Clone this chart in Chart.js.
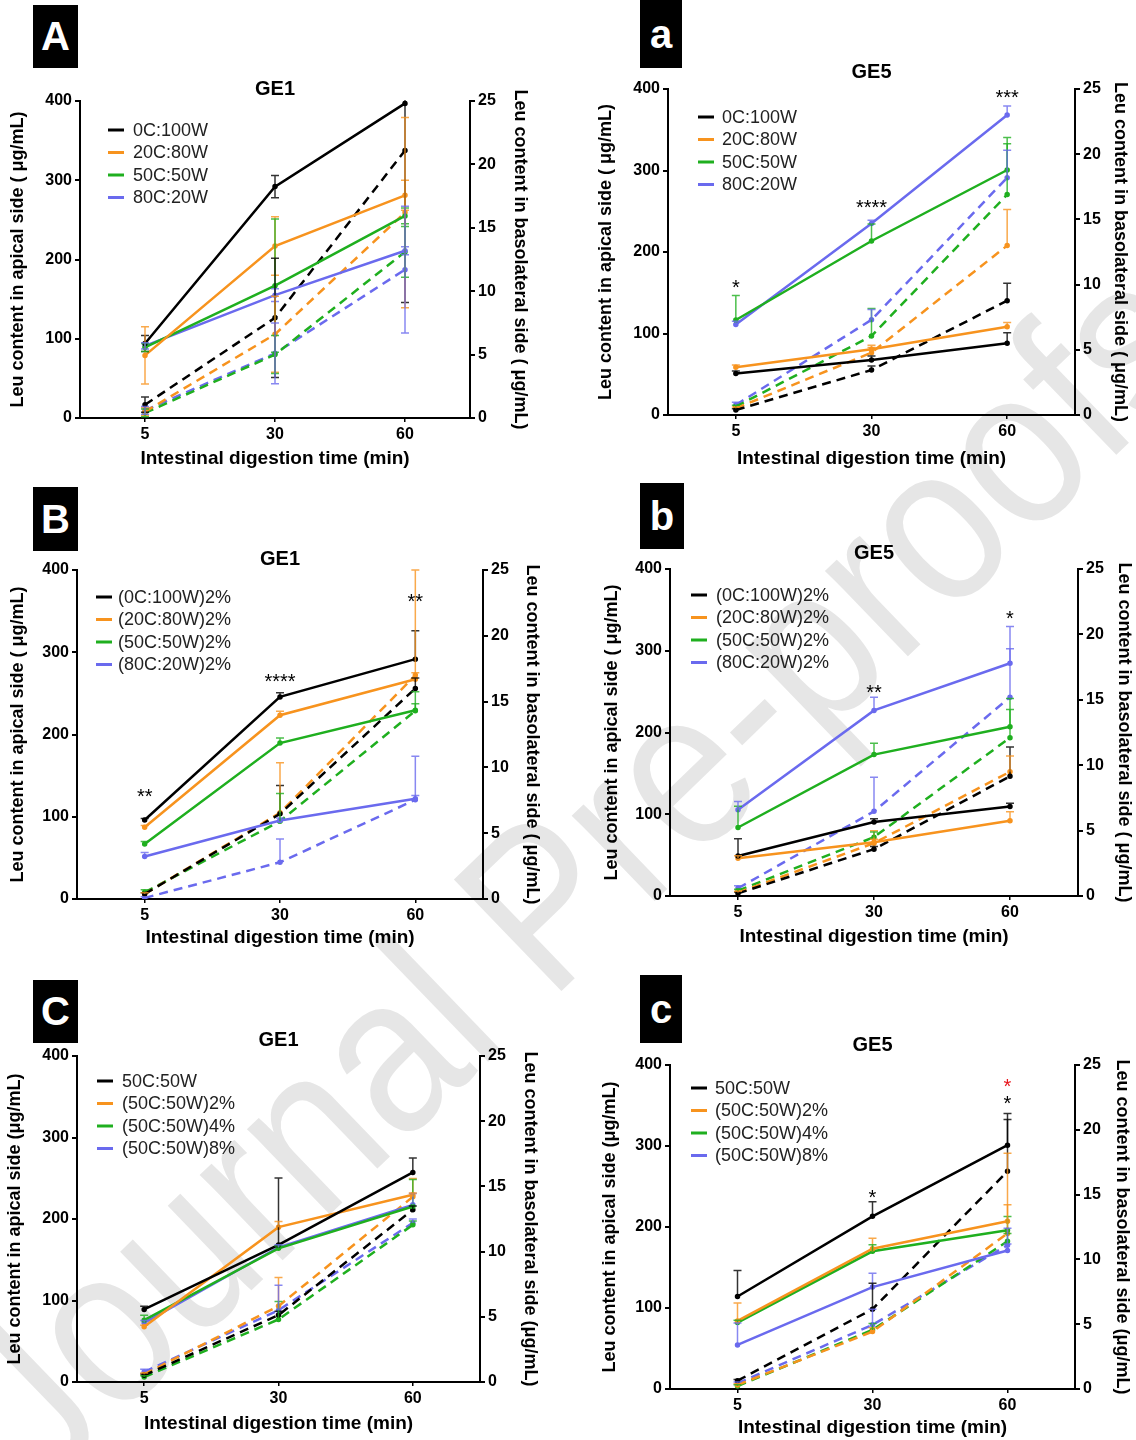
<!DOCTYPE html>
<html>
<head>
<meta charset="utf-8">
<script src="https://cdn.jsdelivr.net/npm/chart.js@4.4.0/dist/chart.umd.min.js"></script>
<style>
body { margin: 0; background: #fff; width: 1136px; height: 1440px; position: relative; overflow: hidden; font-family: "Liberation Sans", Arial, sans-serif; }
canvas { position: absolute; z-index: 1; }
.tag { position: absolute; background: #000; color: #fff; font-weight: bold; font-size: 40px; text-align: center; z-index: 2; }
.wm { position: absolute; left: 575px; top: 870px; transform: translate(-50%, -50%) rotate(-44deg) scaleX(0.88); font-size: 225px; color: #e6e6e6; white-space: nowrap; z-index: 0; }
</style>
</head>
<body>
<div class="wm">Journal Pre-proofs</div>
<div class="tag" style="left:33px;top:5px;width:45px;height:63px;line-height:63px">A</div>
<div class="tag" style="left:640px;top:0px;width:42px;height:68px;line-height:68px">a</div>
<div class="tag" style="left:33px;top:487px;width:45px;height:64px;line-height:64px">B</div>
<div class="tag" style="left:640px;top:483px;width:44px;height:66px;line-height:66px">b</div>
<div class="tag" style="left:33px;top:980px;width:45px;height:63px;line-height:63px">C</div>
<div class="tag" style="left:640px;top:975px;width:42px;height:68px;line-height:68px">c</div>
<canvas id="pA" width="568" height="480" style="left:0;top:0"></canvas>
<canvas id="pa" width="568" height="480" style="left:568px;top:0"></canvas>
<canvas id="pB" width="568" height="480" style="left:0;top:480px"></canvas>
<canvas id="pb" width="568" height="480" style="left:568px;top:480px"></canvas>
<canvas id="pC" width="568" height="480" style="left:0;top:960px"></canvas>
<canvas id="pc" width="568" height="480" style="left:568px;top:960px"></canvas>
<script>
// digestion times (x axis)
var times = ['5', '30', '60'];
var lineColours = ['#000000', '#f7931e', '#1faf1f', '#6a6aee'];

// ---- panel A (GE1) ----
var namesA = ['0C:100W', '20C:80W', '50C:50W', '80C:20W'];
var apicalA = [[94, 292, 397], [79, 217, 281], [89, 167, 255], [91, 155, 211]];
var apicalErrA = [[10, 14, 0], [36, 37, 19], [5, 84, 10], [4, 8, 5]];
var basoA = [[1.05, 7.9, 21.1], [0.5, 6.6, 16.2], [0.4, 5.0, 13.1], [0.6, 5.1, 11.7]];
var basoErrA = [[0.6, 4.7, 12], [0.3, 3, 7.5], [0.3, 1.5, 2], [0.3, 2.4, 5]];

// ---- panel a (GE5) ----
var namesa = ['0C:100W', '20C:80W', '50C:50W', '80C:20W'];
var apicala = [[51, 67.5, 88], [58.5, 80.6, 108.4], [116.6, 213.5, 300.6], [111, 235, 368]];
var apicalErra = [[3, 5, 13], [3, 5, 5], [30, 21, 40], [4, 4, 11]];
var basoa = [[0.38, 3.45, 8.77], [0.51, 4.78, 12.99], [0.64, 6.06, 16.9], [0.77, 7.3, 18.2]];
var basoErra = [[0.1, 0.3, 1.33], [0.1, 0.4, 2.76], [0.1, 2.1, 3.9], [0.2, 0.8, 2.1]];
var starTexta = ['*', '****', '***'];
var starYa = [162, 260, 395];

// ---- panel B (GE1, 2%) ----
var namesB = ['(0C:100W)2%', '(20C:80W)2%', '(50C:50W)2%', '(80C:20W)2%'];
var apicalB = [[96, 245.7, 291.6], [87.3, 223.4, 267.2], [67, 189.6, 229.4], [51.6, 95.4, 121.8]];
var apicalErrB = [[2, 5, 34.5], [2, 5, 8], [3, 6, 8], [5, 3, 4]];
var basoB = [[0.38, 6.47, 16.0], [0.38, 6.55, 17.0], [0.51, 5.91, 14.3], [0.08, 2.79, 7.54]];
var basoErrB = [[0.1, 2.15, 0.8], [0.1, 3.8, 8], [0.2, 2.1, 1.45], [0.1, 1.77, 3.3]];
var starTextB = ['**', '****', '**'];
var starYB = [130, 270, 367];

// ---- panel b (GE5, 2%) ----
var namesb = ['(0C:100W)2%', '(20C:80W)2%', '(50C:50W)2%', '(80C:20W)2%'];
var apicalb = [[49, 90.4, 109.6], [46.2, 65.8, 92], [83.8, 173, 207], [105.5, 227, 284.7]];
var apicalErrb = [[21, 4, 4], [3, 14, 11], [26, 14, 21], [10, 16, 45]];
var basob = [[0.2, 3.58, 9.15], [0.26, 4.04, 9.5], [0.41, 4.5, 12.1], [0.59, 6.47, 15.2]];
var basoErrb = [[0.1, 0.2, 2.25], [0.1, 0.3, 1.2], [0.1, 0.4, 3], [0.2, 2.6, 3.7]];
var starTextb = ['', '**', '*'];
var starYb = [0, 254, 345];

// ---- panel C (GE1, 50C:50W) ----
var namesC = ['50C:50W', '(50C:50W)2%', '(50C:50W)4%', '(50C:50W)8%'];
var apicalC = [[89, 168.2, 257.2], [67.7, 190, 229.7], [75.9, 164, 215.4], [72.6, 165.3, 217.4]];
var apicalErrC = [[4, 82, 17.6], [2, 7, 20], [6, 3, 33], [3, 3, 14]];
var basoC = [[0.51, 5.13, 13.2], [0.59, 5.82, 14.2], [0.38, 4.8, 12.05], [0.77, 5.51, 12.2]];
var basoErrC = [[0.1, 0.3, 0.3], [0.1, 2.2, 0.3], [0.1, 1.37, 0.3], [0.2, 1.9, 0.3]];

// ---- panel c (GE5, 50C:50W) ----
var namesc = ['50C:50W', '(50C:50W)2%', '(50C:50W)4%', '(50C:50W)8%'];
var apicalc = [[114.2, 213.2, 301], [84.1, 173.2, 207], [82, 170, 196], [54.4, 125.8, 171]];
var apicalErrc = [[32, 18, 39], [22, 13, 20.6], [3, 8, 17], [27, 17, 8]];
var basoc = [[0.64, 6.16, 16.8], [0.31, 4.43, 12.0], [0.23, 4.56, 11.4], [0.44, 4.95, 11.1]];
var basoErrc = [[0.1, 2.0, 4], [0.1, 0.3, 6.2], [0.1, 0.5, 0.6], [0.1, 1.2, 1.3]];
var starTextc = ['', '*', '*'];
var starYc = [0, 242, 358];

var FONT = '"Liberation Sans", Arial, sans-serif';

var decor = {
    id: 'decor',
    afterDatasetsDraw: function (chart) {
        var o = chart.options.plugins.decor;
        var ctx = chart.ctx, area = chart.chartArea;
        ctx.save();
        ctx.beginPath();
        ctx.rect(area.left, area.top - 1, area.right - area.left, area.bottom - area.top + 2);
        ctx.clip();
        chart.data.datasets.forEach(function (ds, i) {
            var meta = chart.getDatasetMeta(i);
            var scale = chart.scales[ds.yAxisID];
            ctx.strokeStyle = ds.borderColor;
            ctx.globalAlpha = 0.8;
            ctx.lineWidth = 1.5;
            ds.data.forEach(function (v, j) {
                var e = ds.errors[j];
                if (!e) return;
                var x = meta.data[j].x;
                var top = scale.getPixelForValue(v + e);
                var bot = o.both ? scale.getPixelForValue(Math.max(v - e, 0)) : meta.data[j].y;
                ctx.beginPath();
                ctx.moveTo(x, top); ctx.lineTo(x, bot);
                ctx.moveTo(x - 4, top); ctx.lineTo(x + 4, top);
                if (o.both) { ctx.moveTo(x - 4, bot); ctx.lineTo(x + 4, bot); }
                ctx.stroke();
            });
        });
        ctx.restore();
    },
    afterDraw: function (chart) {
        var o = chart.options.plugins.decor;
        var ctx = chart.ctx, area = chart.chartArea;
        ctx.save();
        // panel title
        ctx.fillStyle = '#000';
        ctx.font = 'bold 20px ' + FONT;
        ctx.textAlign = 'center';
        ctx.textBaseline = 'middle';
        ctx.fillText(o.title, (area.left + area.right) / 2, area.top + o.titleDy);
        // legend
        ctx.font = '18px ' + FONT;
        ctx.textAlign = 'left';
        o.names.forEach(function (n, i) {
            var y = area.top + o.legendDy + i * 22.5;
            var x = area.left + o.legendDx;
            ctx.strokeStyle = lineColours[i];
            ctx.lineWidth = 3;
            ctx.beginPath(); ctx.moveTo(x, y); ctx.lineTo(x + 16, y); ctx.stroke();
            ctx.fillStyle = '#222';
            ctx.fillText(n, x + o.legendGap, y + 1);
        });
        // significance marks
        if (o.stars) {
            var xs = chart.scales.x, ys = chart.scales.y;
            ctx.font = '20px ' + FONT;
            ctx.textAlign = 'center';
            ctx.textBaseline = 'alphabetic';
            o.stars.forEach(function (s) {
                if (!s.text) return;
                ctx.fillStyle = s.colour || '#000';
                ctx.fillText(s.text, xs.getPixelForValue(s.t), ys.getPixelForValue(s.v) + 11);
            });
        }
        ctx.restore();
    }
};

function buildStars(texts, values, extra) {
    var out = [];
    texts.forEach(function (t, i) { out.push({ t: i, text: t, v: values[i] }); });
    if (extra) out = out.concat(extra);
    return out;
}

function makePanel(id, p) {
    var datasets = [];
    for (var i = 0; i < 4; i++) {
        datasets.push({
            label: p.names[i] + ' apical',
            data: p.apical[i],
            errors: p.apicalErr[i],
            yAxisID: 'y',
            borderColor: lineColours[i],
            backgroundColor: lineColours[i],
            borderWidth: 2.5,
            pointRadius: 1.5,
            tension: 0
        });
    }
    for (var k = 0; k < 4; k++) {
        datasets.push({
            label: p.names[k] + ' basolateral',
            data: p.baso[k],
            errors: p.basoErr[k],
            yAxisID: 'y2',
            borderColor: lineColours[k],
            backgroundColor: lineColours[k],
            borderWidth: 2.5,
            borderDash: [9, 6],
            pointRadius: 1.5,
            tension: 0
        });
    }
    var tickFont = { family: FONT, size: 16, weight: 'bold' };
    var titleFont = { family: FONT, size: 18, weight: 'bold' };
    new Chart(document.getElementById(id), {
        type: 'line',
        data: { labels: times, datasets: datasets },
        options: {
            responsive: false,
            animation: false,
            devicePixelRatio: 1,
            layout: { padding: p.pad },
            plugins: {
                legend: { display: false },
                tooltip: { enabled: false },
                decor: {
                    title: p.title, titleDy: p.titleDy, names: p.names,
                    legendDx: p.legendDx, legendDy: p.legendDy, legendGap: p.legendGap,
                    stars: p.stars, both: p.both
                }
            },
            scales: {
                x: {
                    type: 'category',
                    offset: true,
                    afterFit: function (s) { s.height = p.xH; },
                    grid: { display: true, drawOnChartArea: false, offset: false, tickLength: 4, color: '#000', lineWidth: 1.5 },
                    border: { display: true, color: '#000', width: 2 },
                    ticks: { color: '#000', font: tickFont, padding: 3, maxRotation: 0 },
                    title: { display: true, text: 'Intestinal digestion time (min)', color: '#000', font: { family: FONT, size: 19, weight: 'bold' }, padding: 0 }
                },
                y: {
                    position: 'left',
                    min: 0, max: 400,
                    afterFit: function (s) { s.width = p.lW; },
                    grid: { display: true, drawOnChartArea: false, tickLength: 5, color: '#000', lineWidth: 2 },
                    border: { display: true, color: '#000', width: 2 },
                    ticks: { stepSize: 100, color: '#000', font: tickFont, padding: 3 },
                    title: { display: true, text: p.leftTitle, color: '#000', font: titleFont, padding: 0 }
                },
                y2: {
                    position: 'right',
                    min: 0, max: 25,
                    afterFit: function (s) { s.width = p.rW; },
                    grid: { display: true, drawOnChartArea: false, tickLength: 5, color: '#000', lineWidth: 2 },
                    border: { display: true, color: '#000', width: 2 },
                    ticks: { stepSize: 5, color: '#000', font: tickFont, padding: 3 },
                    title: { display: true, text: p.rightTitle, color: '#000', font: titleFont, padding: 0 }
                }
            }
        },
        plugins: [decor]
    });
}

var leftT1 = 'Leu content in apical side ( \u03bcg/mL)';
var rightT1 = 'Leu content in basolateral side ( \u03bcg/mL)';
var leftT2 = 'Leu content in apical side (\u03bcg/mL)';
var rightT2 = 'Leu content in basolateral side (\u03bcg/mL)';

makePanel('pA', {
    names: namesA, apical: apicalA, apicalErr: apicalErrA, baso: basoA, basoErr: basoErrA,
    title: 'GE1', titleDy: -12, legendDx: 28, legendDy: 29, legendGap: 25, both: true,
    pad: { left: 7, right: 37, top: 101, bottom: 10 }, lW: 73, rW: 61, xH: 52,
    leftTitle: leftT1, rightTitle: rightT1
});
makePanel('pa', {
    names: namesa, apical: apicala, apicalErr: apicalErra, baso: basoa, basoErr: basoErra,
    title: 'GE5', titleDy: -17, legendDx: 30, legendDy: 28, legendGap: 24,
    stars: buildStars(starTexta, starYa),
    pad: { left: 27, right: 5, top: 89, bottom: 10 }, lW: 73, rW: 56, xH: 55,
    leftTitle: leftT1, rightTitle: rightT1
});
makePanel('pB', {
    names: namesB, apical: apicalB, apicalErr: apicalErrB, baso: basoB, basoErr: basoErrB,
    title: 'GE1', titleDy: -11, legendDx: 19, legendDy: 27, legendGap: 22,
    stars: buildStars(starTextB, starYB),
    pad: { left: 7, right: 25, top: 90, bottom: 11 }, lW: 70, rW: 60, xH: 50,
    leftTitle: leftT1, rightTitle: rightT1
});
makePanel('pb', {
    names: namesb, apical: apicalb, apicalErr: apicalErrb, baso: basob, basoErr: basoErrb,
    title: 'GE5', titleDy: -16, legendDx: 21, legendDy: 26, legendGap: 25,
    stars: buildStars(starTextb, starYb),
    pad: { left: 33, right: 1, top: 89, bottom: 12 }, lW: 69, rW: 57, xH: 52,
    leftTitle: leftT1, rightTitle: rightT1
});
makePanel('pC', {
    names: namesC, apical: apicalC, apicalErr: apicalErrC, baso: basoC, basoErr: basoErrC,
    title: 'GE1', titleDy: -16, legendDx: 20, legendDy: 25, legendGap: 25,
    pad: { left: 4, right: 27, top: 96, bottom: 5 }, lW: 73, rW: 61, xH: 53,
    leftTitle: leftT2, rightTitle: rightT2
});
makePanel('pc', {
    names: namesc, apical: apicalc, apicalErr: apicalErrc, baso: basoc, basoErr: basoErrc,
    title: 'GE5', titleDy: -20, legendDx: 21, legendDy: 23, legendGap: 24,
    stars: buildStars(starTextc, starYc, [{ t: 2, text: '*', v: 379, colour: '#e8141b' }]),
    pad: { left: 31, right: 3, top: 105, bottom: 1 }, lW: 71, rW: 58, xH: 50,
    leftTitle: leftT2, rightTitle: rightT2
});
</script>
</body>
</html>
